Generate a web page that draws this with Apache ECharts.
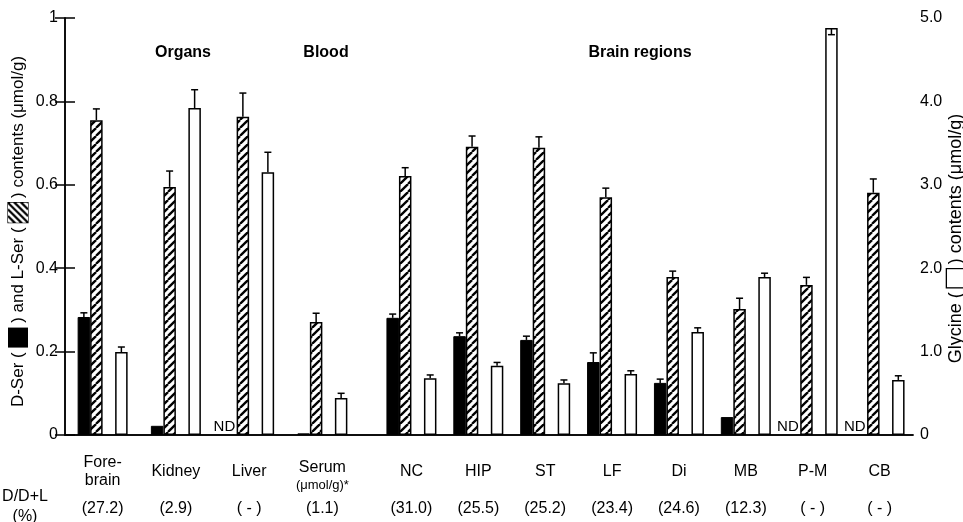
<!DOCTYPE html>
<html>
<head>
<meta charset="utf-8">
<script src="https://cdn.jsdelivr.net/npm/echarts@6/dist/echarts.min.js"></script>
<style>html,body{margin:0;padding:0;background:#fff}#c{width:963px;height:522px}</style>
</head>
<body>
<div id="c"></div>
<script>
// ---- data ----
const categories = ['Fore-\nbrain', 'Kidney', 'Liver', 'Serum\n(μmol/g)*', 'NC', 'HIP', 'ST', 'LF', 'Di', 'MB', 'P-M', 'CB'];
const ratioLabels = ['(27.2)', '(2.9)', '( - )', '(1.1)', '(31.0)', '(25.5)', '(25.2)', '(23.4)', '(24.6)', '(12.3)', '( - )', '( - )'];
const dSer    = [0.283, 0.022, null, 0.004, 0.281, 0.237, 0.228, 0.175, 0.125, 0.043, null, null];
const dSerErr = [0.010, 0, 0, 0, 0.009, 0.008, 0.009, 0.022, 0.009, 0, 0, 0];
const lSer    = [0.755, 0.595, 0.763, 0.271, 0.621, 0.691, 0.689, 0.570, 0.379, 0.302, 0.360, 0.581];
const lSerErr = [0.027, 0.038, 0.057, 0.021, 0.020, 0.026, 0.026, 0.022, 0.014, 0.026, 0.018, 0.033];
const gly     = [0.995, 3.92, 3.15, 0.445, 0.68, 0.83, 0.62, 0.73, 1.235, 1.895, 4.88, 0.66];
const glyErr  = [0.060, 0.22, 0.24, 0.055, 0.04, 0.04, 0.04, 0.04, 0.05, 0.045, -0.08, 0.05];
const groupTitles = ['Organs', 'Blood', 'Brain regions'];
const sections = [[0, 4], [4, 12]];

// ---- style ----
const FONT = '"Liberation Sans", Arial, Helvetica, sans-serif';
const BAR_W = 12.5;

function makeHatch(size, period, lw) {
  const c = document.createElement('canvas');
  c.width = size; c.height = size;
  const g = c.getContext('2d');
  g.fillStyle = '#fff'; g.fillRect(0, 0, size, size);
  g.strokeStyle = '#000'; g.lineWidth = lw;
  for (let o = -size; o <= size * 2; o += period) {
    g.beginPath(); g.moveTo(o, size); g.lineTo(o + size, 0); g.stroke();
  }
  return c;
}
const barHatch = makeHatch(8, 8, 2.3);
const legendHatch = makeHatch(20, 6.67, 2.2);

function labelFormatter(offset) {
  return function (val, idx) {
    const i = idx + offset;
    const parts = categories[i].split('\n');
    let s;
    if (parts.length === 1) s = '{s|' + parts[0] + '}';
    else if (parts[1].indexOf('μmol') >= 0) s = '{sr|' + parts[0] + '}\n{u|' + parts[1] + '}';
    else s = '{n|' + parts[0] + '}\n{n|' + parts[1] + '}';
    return s + '\n{p|' + ratioLabels[i] + '}';
  };
}
const labelRich = {
  n:  { fontSize: 16, lineHeight: 18, fontFamily: FONT, color: '#000' },
  s:  { fontSize: 16, lineHeight: 36, fontFamily: FONT, color: '#000' },
  sr: { fontSize: 16, lineHeight: 27, fontFamily: FONT, color: '#000' },
  u:  { fontSize: 13, lineHeight: 9, fontFamily: FONT, color: '#000' },
  p:  { fontSize: 16, lineHeight: 38, fontFamily: FONT, color: '#000' }
};

const frameLine = { show: true, lineStyle: { color: '#000', width: 1.5 } };
const xAxis = [
  { gridIndex: 0, type: 'value', min: 0, max: 1, position: 'bottom', axisLine: frameLine, axisTick: { show: false }, axisLabel: { show: false }, splitLine: { show: false } },
  { gridIndex: 0, type: 'value', min: 0, max: 1, position: 'top', axisLine: frameLine, axisTick: { show: false }, axisLabel: { show: false }, splitLine: { show: false } }
];
const yAxis = [
  { gridIndex: 0, type: 'value', min: 0, max: 1, interval: 0.2, position: 'left',
    axisLine: frameLine, axisTick: { show: true, inside: true, length: 10, lineStyle: { color: '#000', width: 1.5 } },
    axisLabel: { color: '#000', fontSize: 16, fontFamily: FONT, margin: 7 }, splitLine: { show: false },
    name: 'D-Ser ( {blk|\u00a0} ) and L-Ser ( {hat|\u00a0} ) contents (μmol/g)',
    nameLocation: 'middle', nameRotate: 90, nameGap: 37, nameMoveOverlap: false,
    nameTextStyle: { color: '#000', fontSize: 17, fontFamily: FONT, padding: [0, 10, 0, 0],
      rich: { blk: { width: 20, height: 20, backgroundColor: '#000' },
              hat: { width: 20, height: 20, backgroundColor: { image: legendHatch }, borderColor: '#000', borderWidth: 1.2 } } } },
  { gridIndex: 0, type: 'value', min: 0, max: 5, interval: 1, position: 'right',
    axisLine: frameLine, axisTick: { show: true, inside: true, length: 10, lineStyle: { color: '#000', width: 1.5 } },
    axisLabel: { color: '#000', fontSize: 16, fontFamily: FONT, margin: 7, formatter: v => v === 0 ? '0' : v.toFixed(1) },
    splitLine: { show: false },
    name: 'Glycine ( {wht|\u00a0} ) contents (μmol/g)',
    nameLocation: 'middle', nameRotate: 90, nameGap: 34, nameMoveOverlap: false,
    nameTextStyle: { color: '#000', fontSize: 18, fontFamily: FONT, padding: [0, 24, 0, 0],
      rich: { wht: { width: 18, height: 18, backgroundColor: '#fff', borderColor: '#000', borderWidth: 1.3 } } } }
];
const grid = [
  { left: 65, right: 50, top: 18, bottom: 87, outerBoundsMode: 'none', containLabel: false },
  { left: 66, width: 293, top: 18, bottom: 87, outerBoundsMode: 'none', containLabel: false },
  { left: 378, right: 50, top: 18, bottom: 87, outerBoundsMode: 'none', containLabel: false }
];

const series = [];
function errSeries(xi, yi, vals, errs, slot) {
  return {
    type: 'custom', xAxisIndex: xi, yAxisIndex: yi, z: 5, silent: true,
    data: vals.map((v, i) => [i, v == null ? 0 : v, errs[i]]),
    renderItem: function (params, api) {
      const e = api.value(2);
      if (!e) return null;
      const v = api.value(1);
      const p0 = api.coord([api.value(0), v]);
      const p1 = api.coord([api.value(0), v + e]);
      const x = p0[0] + (slot - 1.5) * BAR_W;
      const st = { stroke: '#000', lineWidth: 1.5 };
      return { type: 'group', children: [
        { type: 'line', shape: { x1: x, y1: p0[1], x2: x, y2: p1[1] }, style: st },
        { type: 'line', shape: { x1: x - 3.5, y1: p1[1], x2: x + 3.5, y2: p1[1] }, style: st }
      ] };
    }
  };
}

sections.forEach(function (sec, k) {
  const xi = 2 + k, yl = 2 + 2 * k, yr = 3 + 2 * k;
  const cats = categories.slice(sec[0], sec[1]);
  xAxis.push({ gridIndex: 1 + k, type: 'category', data: cats,
    axisLine: { show: false }, axisTick: { show: false }, splitLine: { show: false },
    axisLabel: { interval: 0, margin: 19, formatter: labelFormatter(sec[0]), rich: labelRich } });
  yAxis.push({ gridIndex: 1 + k, type: 'value', min: 0, max: 1, show: false });
  yAxis.push({ gridIndex: 1 + k, type: 'value', min: 0, max: 5, show: false });

  const d = dSer.slice(sec[0], sec[1]);
  const l = lSer.slice(sec[0], sec[1]);
  const g = gly.slice(sec[0], sec[1]);
  const common = { type: 'bar', xAxisIndex: xi, barWidth: BAR_W, barGap: '0%', silent: true };
  series.push(Object.assign({}, common, {
    name: 'D-Ser', yAxisIndex: yl,
    itemStyle: { color: '#000', borderColor: '#000', borderWidth: 1 },
    data: d.map(v => v == null
      ? { value: 0, itemStyle: { borderWidth: 0 },
          label: { show: true, position: 'top', distance: 1, offset: [-6, 0], formatter: 'ND', fontSize: 15, color: '#000', fontFamily: FONT } }
      : v)
  }));
  series.push(Object.assign({}, common, {
    name: 'L-Ser', yAxisIndex: yl,
    itemStyle: { color: { image: barHatch, repeat: 'repeat' }, borderColor: '#000', borderWidth: 1.5 },
    data: l
  }));
  series.push(Object.assign({}, common, { name: 'gap', yAxisIndex: yl, data: l.map(() => null) }));
  series.push(Object.assign({}, common, {
    name: 'Glycine', yAxisIndex: yr,
    itemStyle: { color: '#fff', borderColor: '#000', borderWidth: 1.5 },
    data: g
  }));
  series.push(errSeries(xi, yl, d, dSerErr.slice(sec[0], sec[1]), 0));
  series.push(errSeries(xi, yl, l, lSerErr.slice(sec[0], sec[1]), 1));
  series.push(errSeries(xi, yr, g, glyErr.slice(sec[0], sec[1]), 3));
});

const titleFont = 'bold 16px ' + FONT;
const graphic = [
  { type: 'text', x: 183, y: 53, style: { text: groupTitles[0], font: titleFont, fill: '#000', textAlign: 'center', textVerticalAlign: 'middle' } },
  { type: 'text', x: 326, y: 53, style: { text: groupTitles[1], font: titleFont, fill: '#000', textAlign: 'center', textVerticalAlign: 'middle' } },
  { type: 'text', x: 640, y: 53, style: { text: groupTitles[2], font: titleFont, fill: '#000', textAlign: 'center', textVerticalAlign: 'middle' } },
  { type: 'text', x: 25, y: 507, style: { text: 'D/D+L\n(%)', font: '16px ' + FONT, lineHeight: 20, fill: '#000', textAlign: 'center', textVerticalAlign: 'middle' } }
];

const chart = echarts.init(document.getElementById('c'), null, { renderer: 'canvas' });
chart.setOption({ animation: false, backgroundColor: '#fff', grid, xAxis, yAxis, series, graphic });
</script>
</body>
</html>
